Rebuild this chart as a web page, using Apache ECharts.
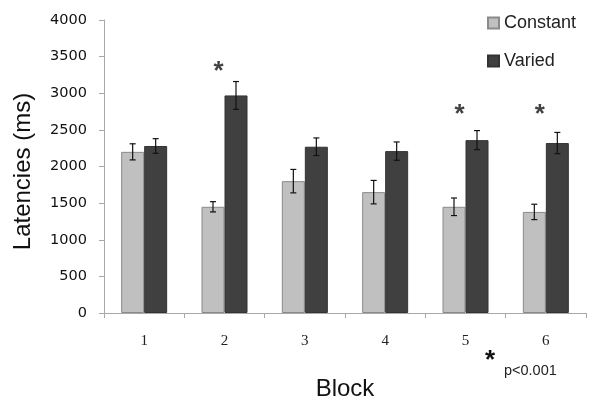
<!DOCTYPE html>
<html>
<head>
<meta charset="utf-8">
<script src="https://cdn.jsdelivr.net/npm/echarts@6/dist/echarts.min.js"></script>
<style>html,body{margin:0;padding:0;background:#fff}#c{width:600px;height:406px}</style>
</head>
<body>
<div id="c"></div>
<script>
const blocks = ['1', '2', '3', '4', '5', '6'];
const constantMean = [2200, 1450, 1800, 1650, 1450, 1380];
const constantErr  = [110, 70, 160, 160, 120, 105];
const variedMean   = [2280, 2970, 2270, 2210, 2360, 2320];
const variedErr    = [100, 190, 120, 125, 130, 145];
const sigBlocks    = ['2', '5', '6'];
const sigMarkY     = [3290, 2710, 2710];
const yTicks       = [0, 500, 1000, 1500, 2000, 2500, 3000, 3500, 4000];

const BAR_W = 23;
const chart = echarts.init(document.getElementById('c'), null, {renderer: 'canvas'});

function errSeries(means, errs, dx) {
  return {
    type: 'custom',
    silent: true,
    z: 5,
    data: means.map((m, i) => [i, m - errs[i], m + errs[i]]),
    renderItem: function (params, api) {
      const lo = api.coord([api.value(0), api.value(1)]);
      const hi = api.coord([api.value(0), api.value(2)]);
      const x = lo[0] + dx;
      const cap = 3;
      const st = {stroke: '#111', lineWidth: 1.2};
      return {
        type: 'group',
        children: [
          {type: 'line', shape: {x1: x, y1: lo[1], x2: x, y2: hi[1]}, style: st},
          {type: 'line', shape: {x1: x - cap, y1: lo[1], x2: x + cap, y2: lo[1]}, style: st},
          {type: 'line', shape: {x1: x - cap, y1: hi[1], x2: x + cap, y2: hi[1]}, style: st}
        ]
      };
    }
  };
}

chart.setOption({
  animation: false,
  backgroundColor: '#fff',
  grid: {left: 104, right: 14, top: 20, bottom: 92},
  legend: {
    orient: 'vertical',
    left: 487,
    top: 14,
    padding: 0,
    icon: 'rect',
    itemWidth: 11,
    itemHeight: 11,
    itemGap: 20,
    textStyle: {fontFamily: 'Liberation Sans, Arial', fontSize: 18, color: '#222'},
    data: ['Constant', 'Varied']
  },
  xAxis: {
    type: 'category',
    data: blocks,
    name: 'Block',
    nameLocation: 'middle',
    nameGap: 64,
    nameTextStyle: {fontFamily: 'Liberation Sans, Arial', fontSize: 24, color: '#111'},
    axisLine: {lineStyle: {color: '#a8a8a8', width: 1}},
    axisTick: {show: true, length: 5, lineStyle: {color: '#a8a8a8'}},
    axisLabel: {margin: 21, fontFamily: 'Liberation Serif, Times New Roman', fontSize: 15, color: '#222'}
  },
  yAxis: {
    type: 'value',
    min: 0,
    max: 4000,
    interval: 500,
    name: 'Latencies (ms)',
    nameLocation: 'middle',
    nameGap: 69,
    nameTextStyle: {fontFamily: 'Liberation Sans, Arial', fontSize: 24, color: '#111', padding: [0, 10, 0, 0]},
    splitLine: {show: false},
    axisLine: {show: true, lineStyle: {color: '#a8a8a8', width: 1}},
    axisTick: {show: true, length: 5, lineStyle: {color: '#a8a8a8'}},
    axisLabel: {
      margin: 17, fontFamily: 'DejaVu Sans', fontSize: 14.5, color: '#111',
      formatter: v => yTicks.includes(v) ? String(v) : ''
    }
  },
  series: [
    {
      name: 'Constant', type: 'bar', data: constantMean, barWidth: BAR_W, barGap: '0%',
      itemStyle: {color: '#c0c0c0', borderColor: '#8a8a8a', borderWidth: 1}
    },
    {
      name: 'Varied', type: 'bar', data: variedMean, barWidth: BAR_W, barGap: '0%',
      itemStyle: {color: '#404040', borderColor: '#333', borderWidth: 1}
    },
    errSeries(constantMean, constantErr, -BAR_W / 2),
    errSeries(variedMean, variedErr, BAR_W / 2),
    {
      type: 'scatter',
      symbolSize: 0,
      silent: true,
      data: sigBlocks.map((b, i) => [b, sigMarkY[i]]),
      label: {
        show: true, position: 'inside', offset: [-6, 0], formatter: '*',
        fontFamily: 'Liberation Sans, Arial', fontWeight: 'bold', fontSize: 26, color: '#111'
      }
    }
  ],
  graphic: [
    {type: 'text', left: 485, top: 348, style: {text: '*', font: 'bold 26px Liberation Sans, Arial', fill: '#111'}},
    {type: 'text', left: 504, top: 363, style: {text: 'p<0.001', font: '14.5px Liberation Sans, Arial', fill: '#222'}}
  ]
});
</script>
</body>
</html>
